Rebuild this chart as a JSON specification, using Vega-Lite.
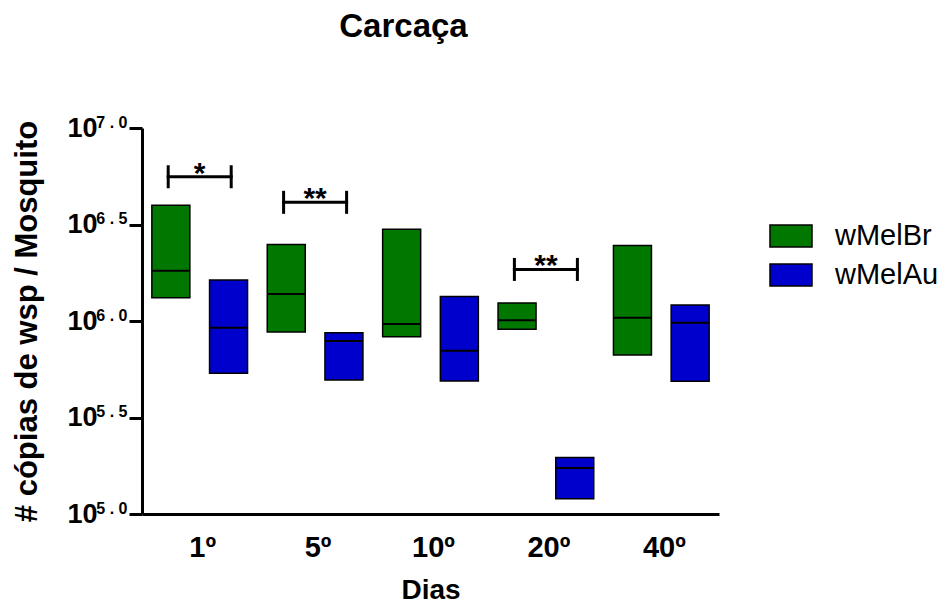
{
  "$schema": "https://vega.github.io/schema/vega-lite/v6.json",
  "width": 577,
  "height": 386,
  "autosize": {"type": "none"},
  "padding": {"left": 142, "top": 128, "right": 226, "bottom": 94},
  "background": "white",
  "config": {"font": "Liberation Sans", "view": {"stroke": null}},
  "title": {"text": "Carcaça", "fontSize": 33, "fontWeight": "bold", "font": "Liberation Sans", "color": "black", "anchor": "middle", "dx": -27, "offset": 44, "baseline": "alphabetic"},
  "datasets": {
    "boxes": [
      {"dia": "1º", "cepa": "wMelBr", "min": 1320000, "mediana": 1820000, "max": 3980000},
      {"dia": "1º", "cepa": "wMelAu", "min": 536000, "mediana": 923000, "max": 1630000},
      {"dia": "5º", "cepa": "wMelBr", "min": 877000, "mediana": 1380000, "max": 2490000},
      {"dia": "5º", "cepa": "wMelAu", "min": 495000, "mediana": 788000, "max": 870000},
      {"dia": "10º", "cepa": "wMelBr", "min": 829000, "mediana": 965000, "max": 2990000},
      {"dia": "10º", "cepa": "wMelAu", "min": 489000, "mediana": 702000, "max": 1340000},
      {"dia": "20º", "cepa": "wMelBr", "min": 906000, "mediana": 1010000, "max": 1240000},
      {"dia": "20º", "cepa": "wMelAu", "min": 120000, "mediana": 173000, "max": 196000},
      {"dia": "40º", "cepa": "wMelBr", "min": 667000, "mediana": 1040000, "max": 2460000},
      {"dia": "40º", "cepa": "wMelAu", "min": 487000, "mediana": 980000, "max": 1210000}
    ],
    "sig": [
      {"dia": "1º", "y": 5590000, "label": "*"},
      {"dia": "5º", "y": 4120000, "label": "**"},
      {"dia": "20º", "y": 1850000, "label": "**"}
    ]
  },
  "layer": [
    {
      "data": {"name": "boxes"},
      "mark": {"type": "bar", "width": 38, "stroke": "black", "strokeWidth": 1.5, "opacity": 1},
      "encoding": {
        "x": {
          "field": "dia", "type": "nominal",
          "scale": {"domain": ["1º", "5º", "10º", "20º", "40º"], "paddingInner": 0, "paddingOuter": 0},
          "title": "Dias",
          "axis": {
            "domainColor": "black", "domainWidth": 3, "ticks": false, "grid": false,
            "labelFont": "Liberation Sans", "labelFontSize": 29, "labelFontWeight": "bold", "labelColor": "black",
            "labelAngle": 0, "labelPadding": 42, "labelBaseline": "alphabetic", "labelOffset": 3,
            "titleFont": "Liberation Sans", "titleFontSize": 28, "titleFontWeight": "bold", "titleColor": "black",
            "titleY": 84, "titleBaseline": "alphabetic"
          }
        },
        "xOffset": {"field": "cepa", "type": "nominal", "scale": {"domain": ["wMelBr", "wMelAu"], "paddingInner": 0, "paddingOuter": 0}},
        "y": {
          "field": "min", "type": "quantitative",
          "scale": {"type": "log", "domain": [100000, 10000000]},
          "title": "# cópias de wsp / Mosquito",
          "axis": {
            "orient": "left",
            "values": [100000, 316227.766, 1000000, 3162277.66, 10000000],
            "labelExpr": "'10'",
            "domainColor": "black", "domainWidth": 3, "tickColor": "black", "tickWidth": 3, "tickSize": 13, "grid": false,
            "labelFont": "Liberation Sans", "labelFontSize": 27, "labelFontWeight": "bold", "labelColor": "black",
            "labelPadding": 32, "labelBaseline": "middle",
            "titleFont": "Liberation Sans", "titleFontSize": 31, "titleFontWeight": "bold", "titleColor": "black",
            "titleX": -106, "titleY": 193, "titleAngle": -90, "titleBaseline": "alphabetic", "titleAlign": "center"
          }
        },
        "y2": {"field": "max"},
        "color": {
          "field": "cepa", "type": "nominal",
          "scale": {"domain": ["wMelBr", "wMelAu"], "range": ["#007800", "#0000cd"]},
          "legend": {
            "orient": "none", "legendX": 627, "legendY": 86, "title": null,
            "symbolType": "M-1,-0.52H1V0.52H-1Z", "symbolSize": 1764,
            "symbolStrokeColor": "black", "symbolStrokeWidth": 1.5, "symbolOpacity": 1,
            "labelFont": "Liberation Sans", "labelFontSize": 29, "labelColor": "black",
            "labelOffset": 22, "rowPadding": 2
          }
        }
      }
    },
    {
      "data": {"name": "boxes"},
      "mark": {"type": "tick", "size": 38, "thickness": 2, "color": "black", "opacity": 1},
      "encoding": {
        "x": {"field": "dia", "type": "nominal"},
        "xOffset": {"field": "cepa", "type": "nominal"},
        "y": {
          "field": "mediana", "type": "quantitative",
          "axis": {
            "orient": "left",
            "values": [100000, 316227.766, 1000000, 3162277.66, 10000000],
            "labelExpr": "replace(format(log(datum.value)/LN10, '.1f'), '.', ' . ')",
            "domain": false, "ticks": false, "tickSize": 0, "grid": false, "title": null,
            "labelFont": "Liberation Sans", "labelFontSize": 16, "labelFontWeight": "bold", "labelColor": "black",
            "labelPadding": 15, "labelOffset": -6, "labelBaseline": "middle"
          }
        }
      }
    },
    {
      "data": {"name": "sig"},
      "mark": {"type": "tick", "orient": "horizontal", "size": 66, "thickness": 3, "color": "black", "opacity": 1},
      "encoding": {
        "x": {"field": "dia", "type": "nominal"},
        "y": {"field": "y", "type": "quantitative", "axis": null}
      }
    },
    {
      "data": {"name": "sig"},
      "mark": {"type": "tick", "orient": "vertical", "size": 23, "thickness": 3, "color": "black", "opacity": 1, "xOffset": -31.5},
      "encoding": {
        "x": {"field": "dia", "type": "nominal"},
        "y": {"field": "y", "type": "quantitative", "axis": null}
      }
    },
    {
      "data": {"name": "sig"},
      "mark": {"type": "tick", "orient": "vertical", "size": 23, "thickness": 3, "color": "black", "opacity": 1, "xOffset": 31.5},
      "encoding": {
        "x": {"field": "dia", "type": "nominal"},
        "y": {"field": "y", "type": "quantitative", "axis": null}
      }
    },
    {
      "data": {"name": "sig"},
      "mark": {"type": "text", "font": "Liberation Sans", "fontSize": 30, "fontWeight": "bold", "color": "black", "baseline": "alphabetic", "align": "center", "dy": 6},
      "encoding": {
        "x": {"field": "dia", "type": "nominal"},
        "y": {"field": "y", "type": "quantitative", "axis": null},
        "text": {"field": "label"}
      }
    }
  ],
  "resolve": {"axis": {"y": "independent"}}
}
